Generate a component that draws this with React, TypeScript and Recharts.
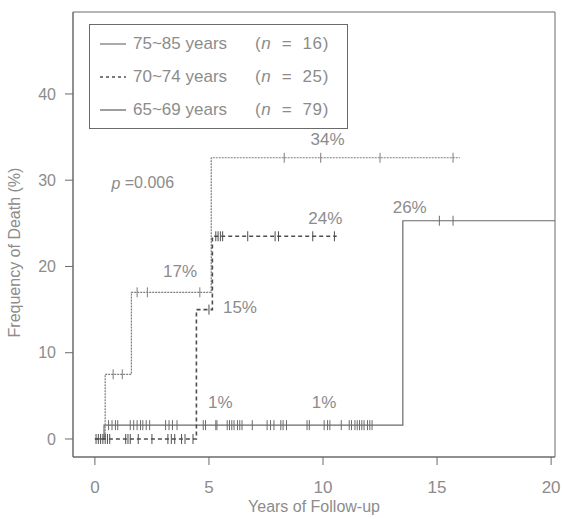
import React from 'react';
import { ComposedChart, Line, Scatter, XAxis, YAxis, ReferenceArea } from 'recharts';

// Step curves (Kaplan-Meier style cumulative frequency of death, %)
const years7585 = [0, 0.45, 1.6, 5.1, 16.0];
const pct7585 = [0, 7.5, 17.0, 32.6, 32.6];
const years7074 = [0, 4.45, 5.15, 10.6];
const pct7074 = [0, 15.0, 23.5, 23.5];
const years6569 = [0, 0.4, 13.5, 20.2];
const pct6569 = [0, 1.6, 25.3, 25.3];

// Censoring times (years)
const censor7585 = [0.8, 1.2, 1.85, 2.3, 4.6, 8.3, 9.9, 12.5, 15.7];
const censor7074 = [0.05, 0.15, 0.25, 0.35, 0.45, 0.55, 0.65, 1.35, 1.45, 1.55, 1.9, 2.5, 3.2, 3.35, 3.5, 3.8, 3.95, 4.3, 5.0, 5.3, 5.4, 5.5, 5.6, 6.7, 7.9, 8.05, 9.55, 10.5];
const censor6569 = [0.6, 0.75, 0.9, 1.0, 1.55, 1.7, 1.85, 2.0, 2.1, 2.25, 2.4, 3.1, 3.25, 3.4, 3.6, 4.75, 4.85, 5.3, 5.35, 5.8, 5.9, 6.0, 6.1, 6.25, 6.35, 6.45, 6.9, 7.55, 7.7, 7.85, 8.15, 8.25, 8.4, 9.3, 9.4, 10.05, 10.2, 10.3, 10.8, 11.15, 11.25, 11.4, 11.5, 11.6, 11.7, 11.8, 11.95, 12.05, 12.15, 15.1, 15.7];

const xTicks = [0, 5, 10, 15, 20];
const yTicks = [0, 10, 20, 30, 40];

const annotationText = ['17%', '15%', '1%', '1%', '34%', '24%', '26%'];
const annotationX = [3.73, 6.36, 5.5, 10.05, 10.2, 10.1, 13.8];
const annotationY = [19.4, 15.2, 4.2, 4.2, 34.7, 25.6, 26.8];
const pValueX = 2.1;
const pValueY = 29.7;

const legendLabels = ['75~85 years', '70~74 years', '65~69 years'];
const legendN = ['16', '25', '79'];

const TEXT = '#8c8c8c';
const AXIS = '#6a6a6a';
const C7585 = '#7c7c7c';
const C7074 = '#4e4e4e';
const C6569 = '#6a6a6a';
const FONT = '"Liberation Sans", Arial, Helvetica, sans-serif';

const toSeries = (xs: number[], ys: number[]) => xs.map((x, i) => ({ x, y: ys[i] }));
const levelAt = (xs: number[], ys: number[], t: number) => {
  let v = ys[0];
  for (let i = 0; i < xs.length; i++) if (xs[i] <= t) v = ys[i];
  return v;
};
const censorPoints = (ts: number[], xs: number[], ys: number[]) => ts.map((t) => ({ x: t, y: levelAt(xs, ys, t) }));

const data7585 = toSeries(years7585, pct7585);
const data7074 = toSeries(years7074, pct7074);
const data6569 = toSeries(years6569, pct6569);
const cens7585 = censorPoints(censor7585, years7585, pct7585);
const cens7074 = censorPoints(censor7074, years7074, pct7074);
const cens6569 = censorPoints(censor6569, years6569, pct6569);
const annotations = annotationText.map((label, i) => ({ x: annotationX[i], y: annotationY[i], label }));
const pData = [{ x: pValueX, y: pValueY, label: 'p' }];

const tickShape = (color: string) => (props: any) => {
  const { cx, cy } = props;
  if (cx == null || cy == null) return <g />;
  return <line x1={cx} x2={cx} y1={cy - 5} y2={cy + 5} stroke={color} strokeWidth={1} />;
};

const textShape = (props: any) => {
  const { cx, cy, payload } = props;
  return (
    <text x={cx} y={cy} textAnchor="middle" dominantBaseline="central" fill={TEXT} fontSize={17} fontFamily={FONT}>
      {payload.label}
    </text>
  );
};

const pShape = (props: any) => {
  const { cx, cy } = props;
  return (
    <text x={cx} y={cy} textAnchor="middle" dominantBaseline="central" fill={TEXT} fontSize={16} fontFamily={FONT}>
      <tspan fontStyle="italic">p</tspan> =0.006
    </text>
  );
};

const LegendSample = ({ dash, color }: { dash?: string; color: string }) => (
  <svg width={26} height={10} style={{ display: 'block' }}>
    <line x1={0} x2={26} y1={5} y2={5} stroke={color} strokeWidth={1.3} strokeDasharray={dash} />
  </svg>
);

export default function App() {
  const legendColors = [C7585, C7074, C6569];
  const legendDash = [undefined, '3 3', undefined];
  return (
    <div style={{ position: 'absolute', left: 0, top: 0, width: 562, height: 519, background: '#fff' }}>
      <ComposedChart width={562} height={519} margin={{ top: 12, right: 7, bottom: 0, left: 0 }}>
        <XAxis
          dataKey="x"
          type="number"
          domain={[-0.96, 20.17]}
          ticks={xTicks}
          allowDataOverflow
          height={62}
          tickSize={8}
          tickMargin={16}
          axisLine={{ stroke: AXIS }}
          tickLine={{ stroke: AXIS }}
          tick={{ fill: TEXT, fontSize: 17, fontFamily: FONT }}
          label={{ value: 'Years of Follow-up', position: 'insideBottom', offset: 7, fill: TEXT, fontSize: 16, fontFamily: FONT }}
        />
        <YAxis
          type="number"
          domain={[-2.09, 49.5]}
          ticks={yTicks}
          allowDataOverflow
          width={73}
          tickSize={8}
          tickMargin={9}
          axisLine={{ stroke: AXIS }}
          tickLine={{ stroke: AXIS }}
          tick={{ fill: TEXT, fontSize: 16, fontFamily: FONT }}
          label={{ value: 'Frequency of Death (%)', angle: -90, position: 'insideLeft', offset: 14, fill: TEXT, fontSize: 16, fontFamily: FONT, style: { textAnchor: 'middle' }, dy: 18 }}
        />
        <ReferenceArea x1={-0.96} x2={20.17} y1={-2.09} y2={49.5} fill="none" stroke={AXIS} strokeWidth={1} ifOverflow="visible" />
        <Line data={data6569} dataKey="y" type="stepAfter" stroke={C6569} strokeWidth={1.2} dot={false} isAnimationActive={false} />
        <Line data={data7585} dataKey="y" type="stepAfter" stroke={C7585} strokeWidth={1.2} strokeDasharray="2 1" dot={false} isAnimationActive={false} />
        <Line data={data7074} dataKey="y" type="stepAfter" stroke={C7074} strokeWidth={1.6} strokeDasharray="4 3" dot={false} isAnimationActive={false} />
        <Scatter data={cens6569} dataKey="y" shape={tickShape(C6569)} isAnimationActive={false} />
        <Scatter data={cens7585} dataKey="y" shape={tickShape(C7585)} isAnimationActive={false} />
        <Scatter data={cens7074} dataKey="y" shape={tickShape(C7074)} isAnimationActive={false} />
        <Scatter data={annotations} dataKey="y" shape={textShape} isAnimationActive={false} />
        <Scatter data={pData} dataKey="y" shape={pShape} isAnimationActive={false} />
      </ComposedChart>
      <div
        style={{
          position: 'absolute',
          left: 89,
          top: 24,
          width: 259,
          height: 105,
          border: `1px solid ${AXIS}`,
          boxSizing: 'border-box',
          fontFamily: FONT,
          fontSize: 17,
          color: TEXT,
        }}
      >
        {legendLabels.map((lab, i) => (
          <div
            key={lab}
            style={{ position: 'absolute', left: 10, top: 8 + i * 33, height: 22, display: 'flex', alignItems: 'center', whiteSpace: 'nowrap' }}
          >
            <LegendSample dash={legendDash[i]} color={legendColors[i]} />
            <span style={{ marginLeft: 7, width: 122 }}>{lab}</span>
            <span style={{ wordSpacing: 5, letterSpacing: 0.6 }}>
              (<i>n</i> = {legendN[i]})
            </span>
          </div>
        ))}
      </div>
    </div>
  );
}
